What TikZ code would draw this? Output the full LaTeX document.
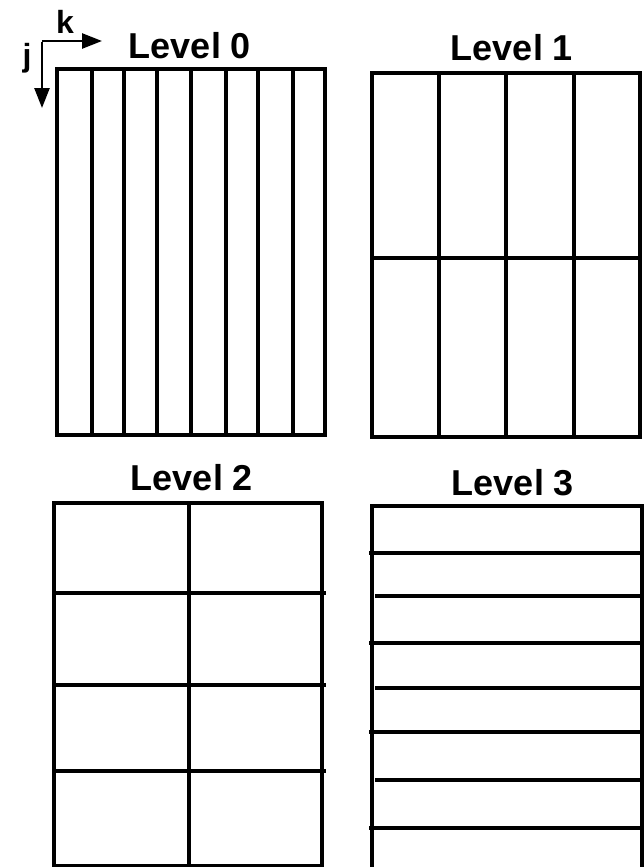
\documentclass[tikz,border=0pt]{standalone}
\usepackage{fontspec}
\setmainfont{Liberation Sans}
\usetikzlibrary{arrows.meta}

\tikzset{
  gridline/.style={line width=3.2pt},
  levellabel/.style={font=\fontsize{36}{40}\selectfont\bfseries, anchor=base, inner sep=0pt},
  axislabel/.style={font=\fontsize{32}{36}\selectfont\bfseries, inner sep=0pt},
  axisarrow/.style={line width=2.6pt, -{Triangle[length=20pt,width=15pt]}}
}

\begin{document}
\begin{tikzpicture}[x=1pt, y=-1pt]
        \useasboundingbox (0,0) rectangle (644,867);

        % index directions
        \coordinate (origin) at (42,41);
        \coordinate (kend) at (102,41);
        \coordinate (jend) at (42,108);
        \draw[axisarrow] (origin) -- (kend);
        \draw[axisarrow] ([yshift=-1.3pt]origin) -- (jend);
        \node[axislabel] (klab) at (65,22) {k};
        \node[axislabel] (jlab) at (27,58) {j};

        % level 0: eight columns
        \node[levellabel] (lev0) at (190,59) {Level 0};
        \draw[gridline] (57,69) rectangle (325,435);
        \foreach \x in {92,124,157,191,226,258,293}
            \draw[gridline] (\x,69) -- (\x,435);

        % level 1: four columns, two rows
        \node[levellabel] (lev1) at (512,61) {Level 1};
        \draw[gridline] (372,73) rectangle (640,437);
        \foreach \x in {439,506,574}
            \draw[gridline] (\x,73) -- (\x,437);
        \draw[gridline] (372,258) -- (640,258);

        % level 2: two columns, four rows
        \node[levellabel] (lev2) at (192,490) {Level 2};
        \draw[gridline] (54,503) rectangle (322,866);
        \draw[gridline] (189,503) -- (189,865);
        \foreach \y in {593,685,771}
            \draw[gridline] (56,\y) -- (326,\y);

        % level 3: rows only
        \node[levellabel] (lev3) at (513,495) {Level 3};
        \draw[gridline] (372,880) -- (372,506) -- (642,506) -- (642,880);
        \foreach \y in {553,643,732,828}
            \draw[gridline] (369,\y) -- (644,\y);
        \foreach \y in {596,688,780}
            \draw[gridline] (375,\y) -- (642,\y);
    \end{tikzpicture}
\end{document}
